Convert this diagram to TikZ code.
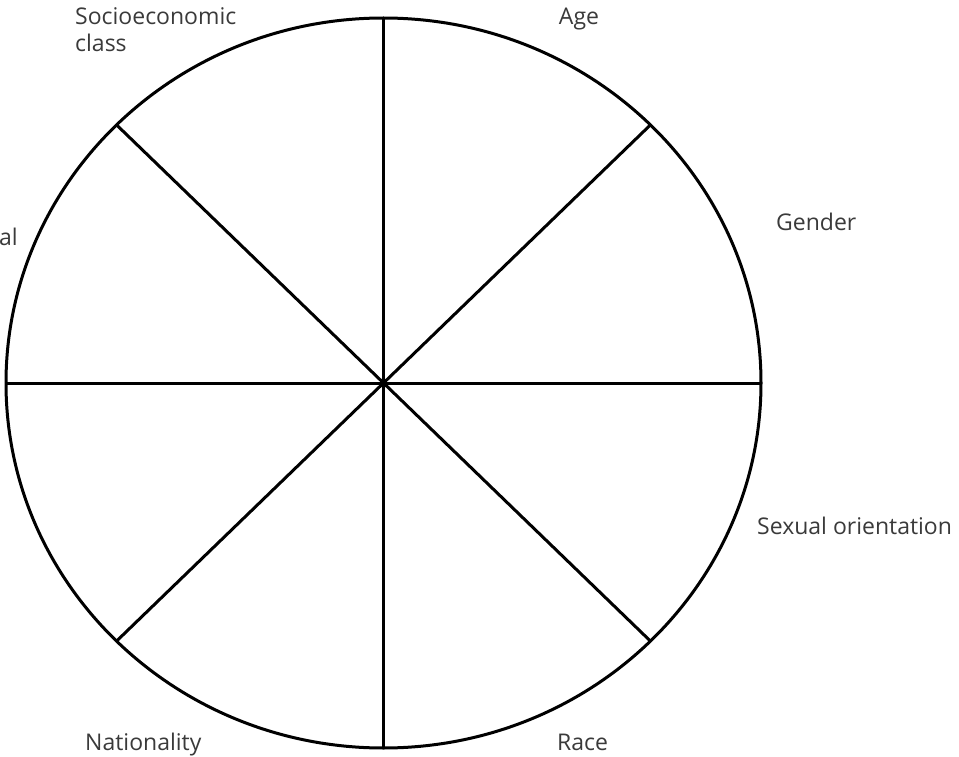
\documentclass[tikz,border=0pt]{standalone}
\usepackage{fontspec}
\setmainfont{Open Sans}
\definecolor{labelgray}{HTML}{3A3A3A}
\begin{document}
\begin{tikzpicture}[x=1pt,y=-1pt,
  wheel/.style={line width=3pt,black},
  lbl/.style={text=labelgray,font=\fontsize{23}{27}\selectfont,inner sep=0pt}]
\useasboundingbox (0,0) rectangle (959,757);
\coordinate (c) at (383.5,383);
\draw[wheel] (c) ellipse [x radius=377.5, y radius=365];
\foreach \a in {0,45,...,315}{
  \draw[wheel] (c) -- ++({377.5*cos(\a)},{365*sin(\a)});
}
\node[lbl,anchor=base west,align=left] (socio) at (75,25) {Socioeconomic};
\node[lbl,anchor=base west,align=left] (class) at (75,52) {class};
\node[lbl,anchor=base] (age) at (579,25) {Age};
\node[lbl,anchor=base west] (gender) at (776,230) {Gender};
\node[lbl,anchor=base east] (edu) at (18,245) {al};
\node[lbl,anchor=base west] (sex) at (757,534) {Sexual orientation};
\node[lbl,anchor=base west] (race) at (557,750) {Race};
\node[lbl,anchor=base west] (nat) at (85,750) {Nationality};
\end{tikzpicture}
\end{document}
